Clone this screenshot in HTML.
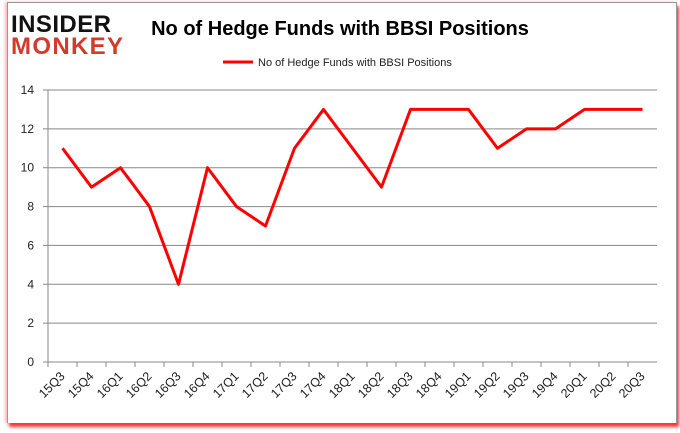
<!DOCTYPE html>
<html><head><meta charset="utf-8"><style>
body{margin:0;background:#fff;width:680px;height:433px;overflow:hidden;font-family:"Liberation Sans",sans-serif}
#frame{position:absolute;left:7px;top:2px;width:668px;height:420px;border:1px solid #999;border-bottom:none;box-shadow:2px 4px 3px #f33, -2px 0 3px #fbb;background:#fff}
</style></head><body>
<div id="frame"></div>
<svg id="c" width="680" height="433" style="position:absolute;left:0;top:0">
<text x="11" y="32" font-size="24" font-weight="900" fill="#111" textLength="100">INSIDER</text>
<text x="11" y="54" font-size="24" font-weight="900" fill="#d23a2a" textLength="112">MONKEY</text>
<text x="340" y="35" font-size="20" font-weight="bold" fill="#000" text-anchor="middle">No of Hedge Funds with BBSI Positions</text>
<line x1="223" y1="62" x2="253" y2="62" stroke="#f00" stroke-width="3"/>
<text x="258" y="66" font-size="11" fill="#222">No of Hedge Funds with BBSI Positions</text>
</svg>
<script>
const categories=["15Q3","15Q4","16Q1","16Q2","16Q3","16Q4","17Q1","17Q2","17Q3","17Q4","18Q1","18Q2","18Q3","18Q4","19Q1","19Q2","19Q3","19Q4","20Q1","20Q2","20Q3"];
const values=[11,9,10,8,4,10,8,7,11,13,11,9,13,13,13,11,12,12,13,13,13];
const yTicks=[0,2,4,6,8,10,12,14];
const L=48,R=657,T=90,B=362,ymax=14;
const bw=(R-L)/categories.length;
const x=i=>L+bw*(i+0.5);
const y=v=>B-(B-T)*v/ymax;
const svg=document.getElementById('c'),NS='http://www.w3.org/2000/svg';
function mk(t,a){const e=document.createElementNS(NS,t);for(const k in a)e.setAttribute(k,a[k]);svg.appendChild(e);return e;}
yTicks.forEach(v=>{
 if(v>0){const g=mk('line',{x1:L,x2:R,y1:y(v),y2:y(v),stroke:'#888','stroke-width':1});
 
 }
 const tk=mk('line',{x1:L-5,x2:L,y1:y(v),y2:y(v),stroke:'#888'});
 
 
 const t=mk('text',{x:L-14,y:y(v)+4,'font-size':12,'text-anchor':'end',fill:'#222'});t.textContent=v;
 
 
});
const ax=mk('line',{x1:L,x2:L,y1:T,y2:B,stroke:'#888'});


const xa=mk('line',{x1:L,x2:R,y1:B,y2:B,stroke:'#888'});


categories.forEach((c,i)=>{
 const tk=mk('line',{x1:L+bw*i,x2:L+bw*i,y1:B,y2:B+5,stroke:'#888'});
 
 
 const tx=x(i)+3,ty=B+15;
 const t=mk('text',{x:tx,y:ty,'font-size':12.5,'text-anchor':'end',fill:'#222',transform:`rotate(-45 ${tx} ${ty})`});t.textContent=c;
 
 
});
const p=mk('polyline',{points:values.map((v,i)=>x(i)+','+y(v)).join(' '),fill:'none',stroke:'#f00','stroke-width':3,'stroke-linejoin':'round'});


</script>
</body></html>
